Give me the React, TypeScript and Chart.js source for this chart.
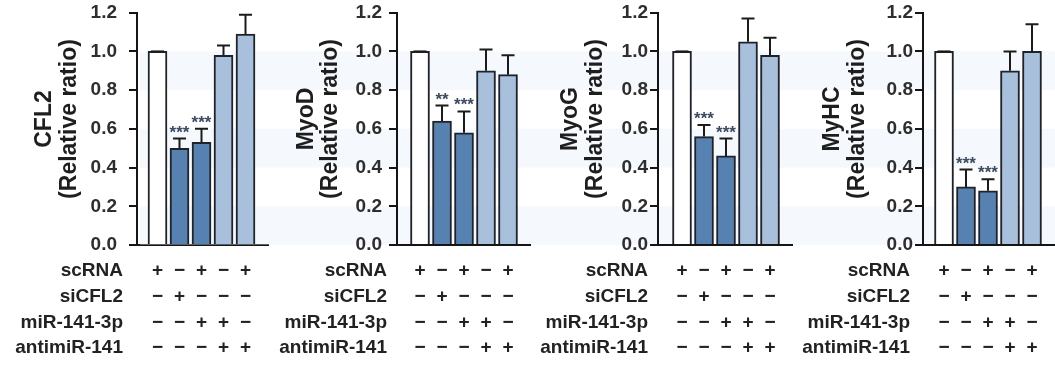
import React, { useEffect, useRef } from 'react';
import { Chart, registerables } from 'chart.js';

Chart.register(...registerables);

// ---------- data ----------
const markerNames = ['CFL2', 'MyoD', 'MyoG', 'MyHC'];
const yAxisSubtitle = '(Relative ratio)';

const cfl2Values = [1.0, 0.5, 0.53, 0.98, 1.09];
const cfl2Errors = [0, 0.05, 0.07, 0.05, 0.1];
const cfl2Stars = ['', '***', '***', '', ''];

const myoDValues = [1.0, 0.64, 0.58, 0.9, 0.88];
const myoDErrors = [0, 0.08, 0.11, 0.11, 0.1];
const myoDStars = ['', '**', '***', '', ''];

const myoGValues = [1.0, 0.56, 0.46, 1.05, 0.98];
const myoGErrors = [0, 0.06, 0.09, 0.12, 0.09];
const myoGStars = ['', '***', '***', '', ''];

const myHCValues = [1.0, 0.3, 0.28, 0.9, 1.0];
const myHCErrors = [0, 0.09, 0.06, 0.1, 0.14];
const myHCStars = ['', '***', '***', '', ''];

const conditionLabels = ['scRNA', 'siCFL2', 'miR-141-3p', 'antimiR-141'];
const scRNARow = ['+', '\u2212', '+', '\u2212', '+'];
const siCFL2Row = ['\u2212', '+', '\u2212', '\u2212', '\u2212'];
const miR141Row = ['\u2212', '\u2212', '+', '+', '\u2212'];
const antimiRRow = ['\u2212', '\u2212', '\u2212', '+', '+'];
const conditionRows = [scRNARow, siCFL2Row, miR141Row, antimiRRow];

const yTicks = [0, 0.2, 0.4, 0.6, 0.8, 1.0, 1.2];
const bandRanges = [
  [0.8, 1.0],
  [0.4, 0.6],
  [0.0, 0.2],
];

// ---------- layout / style ----------
const W = 1055;
const H = 369;
const AREA_TOP = 12.7;
const AREA_BOTTOM = 245;
const SPACING = 22;
const Y_WIDTH = 110;
const TICK_LEN = 8;
const FONT = "'Liberation Sans', Arial, Helvetica, sans-serif";
const barColors = ['#ffffff', '#5781b1', '#5781b1', '#a9c0dc', '#a9c0dc'];
const rowY = [271, 297, 322.5, 348];

const panels = [
  { name: markerNames[0], values: cfl2Values, errors: cfl2Errors, stars: cfl2Stars, axisX: 137, firstCenter: 157.5, titleX: 45, tickPad: 12, labelRight: 123 },
  { name: markerNames[1], values: myoDValues, errors: myoDErrors, stars: myoDStars, axisX: 397, firstCenter: 420, titleX: 306.5, tickPad: 7, labelRight: 387 },
  { name: markerNames[2], values: myoGValues, errors: myoGErrors, stars: myoGStars, axisX: 658, firstCenter: 682, titleX: 571, tickPad: 2, labelRight: 648 },
  { name: markerNames[3], values: myHCValues, errors: myHCErrors, stars: myHCStars, axisX: 923, firstCenter: 944, titleX: 833, tickPad: 2, labelRight: 910 },
];

function Panel({ p, index }: { p: any; index: number }) {
  const ref = useRef<HTMLCanvasElement>(null);
  useEffect(() => {
    const canvas = ref.current;
    if (!canvas) return;
    const axisEnd = p.firstCenter + 4 * SPACING + 22.5;
    const xMin = -(p.firstCenter - p.axisX) / SPACING;
    const xMax = 4 + 22.5 / SPACING;

    const bandsPlugin = {
      id: 'bands' + index,
      beforeDatasetsDraw(chart: any) {
        if (index !== 0) return;
        const y = chart.scales.y;
        const ctx = chart.ctx;
        ctx.save();
        ctx.fillStyle = 'rgba(226,236,248,0.35)';
        bandRanges.forEach(([lo, hi]) => {
          const y1 = y.getPixelForValue(hi);
          const y2 = y.getPixelForValue(lo);
          ctx.fillRect(140, y1, W - 140, y2 - y1);
        });
        ctx.restore();
      },
    };

    const errorPlugin = {
      id: 'errors' + index,
      afterDatasetsDraw(chart: any) {
        const xs = chart.scales.x;
        const ys = chart.scales.y;
        const ctx = chart.ctx;
        ctx.save();
        ctx.strokeStyle = '#1b1b1b';
        ctx.lineWidth = 2;
        p.values.forEach((v: number, i: number) => {
          const x = xs.getPixelForValue(i);
          const yb = ys.getPixelForValue(v);
          const yt = ys.getPixelForValue(v + p.errors[i]);
          ctx.beginPath();
          ctx.moveTo(x, yb);
          ctx.lineTo(x, yt);
          ctx.moveTo(x - 6.5, yt);
          ctx.lineTo(x + 6.5, yt);
          ctx.stroke();
          if (p.stars[i]) {
            ctx.fillStyle = '#3c4a60';
            ctx.font = `bold 17px ${FONT}`;
            ctx.textAlign = 'center';
            ctx.textBaseline = 'alphabetic';
            ctx.fillText(p.stars[i], x, yt - 1);
          }
        });
        ctx.restore();
      },
    };

    const textPlugin = {
      id: 'texts' + index,
      afterDraw(chart: any) {
        const xs = chart.scales.x;
        const ctx = chart.ctx;
        ctx.save();
        ctx.fillStyle = '#1e1e1e';
        ctx.font = `bold 23px ${FONT}`;
        ctx.textAlign = 'center';
        ctx.textBaseline = 'middle';
        const lines = [p.name, yAxisSubtitle];
        lines.forEach((t, li) => {
          ctx.save();
          ctx.translate(p.titleX + li * 24.5, 119);
          ctx.rotate(-Math.PI / 2);
          ctx.fillText(t, 0, 0);
          ctx.restore();
        });
        ctx.font = `bold 19px ${FONT}`;
        ctx.fillStyle = '#222222';
        conditionLabels.forEach((lab, r) => {
          ctx.textAlign = 'right';
          ctx.fillText(lab, p.labelRight, rowY[r]);
          ctx.textAlign = 'center';
          conditionRows[r].forEach((s, i) => {
            ctx.fillText(s, xs.getPixelForValue(i), rowY[r]);
          });
        });
        ctx.restore();
      },
    };

    const chart = new Chart(canvas, {
      type: 'bar',
      data: {
        datasets: [
          {
            data: p.values.map((v: number, i: number) => ({ x: i, y: v })),
            backgroundColor: barColors,
            borderColor: '#1f2329',
            borderWidth: 2,
            barThickness: 19,
          },
        ],
      },
      options: {
        responsive: false,
        animation: false,
        events: [],
        layout: {
          padding: {
            left: p.axisX - Y_WIDTH,
            right: W - axisEnd,
            top: AREA_TOP,
            bottom: H - AREA_BOTTOM,
          },
        },
        plugins: { legend: { display: false }, tooltip: { enabled: false }, title: { display: false } },
        scales: {
          x: {
            type: 'linear',
            offset: false,
            min: xMin,
            max: xMax,
            ticks: { display: false },
            grid: { display: false, offset: false },
            border: { display: true, color: '#151515', width: 2 },
            afterFit: (s: any) => {
              s.height = 0;
              s.paddingLeft = 0;
              s.paddingRight = 0;
            },
          },
          y: {
            min: 0,
            max: 1.2,
            afterBuildTicks: (s: any) => {
              s.ticks = yTicks.map((v) => ({ value: v }));
            },
            ticks: {
              callback: (v: any) => Number(v).toFixed(1),
              font: { family: FONT, size: 19, weight: 'bold' },
              color: '#2e2e2e',
              padding: p.tickPad,
            },
            grid: {
              drawOnChartArea: false,
              drawTicks: true,
              tickLength: TICK_LEN,
              color: '#151515',
              lineWidth: 2,
            },
            border: { display: true, color: '#151515', width: 2 },
            afterFit: (s: any) => {
              s.width = Y_WIDTH;
              s.paddingTop = 0;
              s.paddingBottom = 0;
            },
          },
        },
      } as any,
      plugins: [bandsPlugin, errorPlugin, textPlugin],
    });
    return () => chart.destroy();
  }, []);
  return (
    <canvas
      ref={ref}
      width={W}
      height={H}
      style={{ position: 'absolute', left: 0, top: 0, width: W, height: H }}
    />
  );
}

export default function App() {
  return (
    <div style={{ position: 'absolute', left: 0, top: 0, width: W, height: H, background: '#ffffff', overflow: 'hidden' }}>
      {panels.map((p, i) => (
        <Panel key={i} p={p} index={i} />
      ))}
    </div>
  );
}
